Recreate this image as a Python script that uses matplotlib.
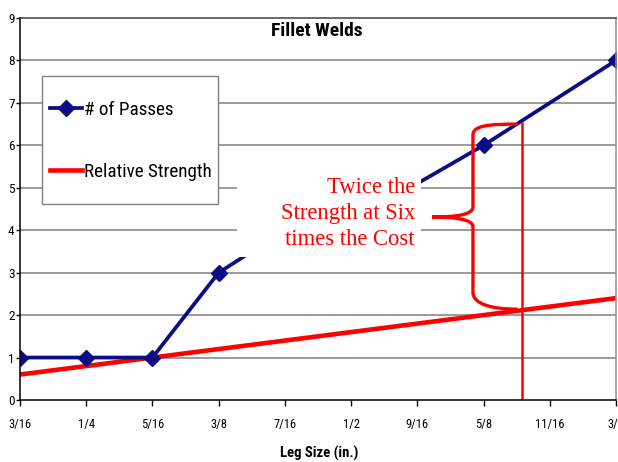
import matplotlib
matplotlib.use("Agg")
import matplotlib.pyplot as plt
from matplotlib.patches import Rectangle, PathPatch
from matplotlib.path import Path
from matplotlib.lines import Line2D
from matplotlib import font_manager as fm

# ---- data ----
tick_labels = ["3/16", "1/4", "5/16", "3/8", "7/16", "1/2", "9/16", "5/8", "11/16", "3/4"]
tick_values = [3/16, 1/4, 5/16, 3/8, 7/16, 1/2, 9/16, 5/8, 11/16, 3/4]

passes_x = [3/16, 1/4, 5/16, 3/8, 7/16, 1/2, 5/8, 3/4]
passes_y = [1, 1, 1, 3, 4, 4.2, 6, 8]

strength_x = tick_values
strength_y = [0.6, 0.8, 1.0, 1.2, 1.4, 1.6, 1.8, 2.0, 2.2, 2.4]

marker_x = 0.6615          # vertical red marker line
marker_top = 6.53

title = "Fillet Welds"
xlabel = "Leg Size (in.)"
note = "Twice the\nStrength at Six\ntimes the Cost"

names = sorted({f.name for f in fm.fontManager.ttflist})
cands = ["Roboto Condensed", "DejaVu Sans Condensed", "Liberation Sans Narrow",
         "Open Sans Condensed", "Noto Sans Condensed"]
found = [c for c in cands if c in names]
NARROW = found[:1] + ["Liberation Sans"]
SERIF = ["Liberation Serif", "DejaVu Serif"]

fig = plt.figure(figsize=(6.18, 4.62), dpi=100)
ax = fig.add_axes([20/618, 1-400/462, 596/618, 382/462])
ax.set_xlim(3/16, 3/4)
ax.set_ylim(0, 9)

BLUE = "#0c0c84"
RED = "#ff0000"

for v in range(1, 9):
    ax.axhline(v, color="#808080", lw=1.1, zorder=1)

ax.plot(strength_x, strength_y, color=RED, lw=3.3, zorder=3, solid_capstyle="butt")
ax.plot(passes_x, passes_y, color=BLUE, lw=2.7, marker="D", ms=8.5, zorder=4)

ax.plot([marker_x, marker_x], [0.05, marker_top], color=RED, lw=1.8, zorder=5)

# white text box
ax.add_patch(Rectangle((0.392, 3.37), 0.566-0.392, 5.54-3.37, facecolor="white",
                       edgecolor="none", zorder=6))
ax.text(0.5604, 4.40, note, color=RED, fontsize=16.3, family=SERIF,
        ha="right", va="center", multialignment="right", zorder=7, linespacing=1.3)

# brace
verts = [(0.6575, 6.50), (0.630, 6.50), (0.615, 6.47), (0.615, 6.24),
         (0.615, 4.55),
         (0.615, 4.36), (0.598, 4.31), (0.5764, 4.31),
         (0.598, 4.31), (0.615, 4.26), (0.615, 4.08),
         (0.615, 2.54),
         (0.615, 2.24), (0.635, 2.14), (0.657, 2.14)]
codes = [Path.MOVETO, Path.CURVE4, Path.CURVE4, Path.CURVE4,
         Path.LINETO,
         Path.CURVE4, Path.CURVE4, Path.CURVE4,
         Path.CURVE4, Path.CURVE4, Path.CURVE4,
         Path.LINETO,
         Path.CURVE4, Path.CURVE4, Path.CURVE4]
ax.add_patch(PathPatch(Path(verts, codes), facecolor="none", edgecolor=RED, lw=2.4, zorder=8))

# legend box
ax.add_patch(Rectangle((22/596, (400-204)/382), 176/596, 128/382, transform=ax.transAxes,
                       facecolor="white", edgecolor="#808080", lw=1.0, zorder=6))
handles = [Line2D([], [], color=BLUE, lw=2.7, marker="D", ms=8.5),
           Line2D([], [], color=RED, lw=3.3)]
leg = ax.legend(handles, ["# of Passes", "Relative Strength"], loc="center left",
                bbox_to_anchor=((30/596), (400-141)/382), frameon=False, numpoints=1,
                handlelength=1.65, handletextpad=0.15, labelspacing=2.3,
                borderaxespad=0, borderpad=0,
                prop=fm.FontProperties(family=NARROW, size=13.8, stretch="condensed"))
leg.set_zorder(9)

# title
ax.text((317-20)/596, (400-31.5)/382, title, transform=ax.transAxes, ha="center", va="center",
        fontsize=14, fontweight="bold", family=NARROW, fontstretch="condensed", zorder=9)

ax.set_xticks(tick_values)
ax.set_xticklabels(tick_labels, family=NARROW, fontsize=9, fontstretch="condensed")
ax.set_yticks(range(0, 10))
ax.set_yticklabels([str(v) for v in range(0, 10)], family=NARROW, fontsize=9.5,
                   fontstretch="condensed")
ax.tick_params(axis="x", direction="out", length=4, width=1, pad=9, colors="black")
ax.tick_params(axis="y", direction="out", length=3, width=1, pad=1, colors="black")
ax.set_xlabel(xlabel, family=NARROW, fontsize=10.5, fontweight="bold", fontstretch="condensed")
ax.xaxis.label.set_va("center")
ax.xaxis.set_label_coords((319-20)/596, -(453-400)/382)

ax.spines["left"].set_color("black")
ax.spines["bottom"].set_color("black")
ax.spines["top"].set_color("#404040")
ax.spines["right"].set_color("#909090")
for s in ax.spines.values():
    s.set_linewidth(1.1)
    s.set_zorder(10)

fig.savefig("out.png", dpi=100)
